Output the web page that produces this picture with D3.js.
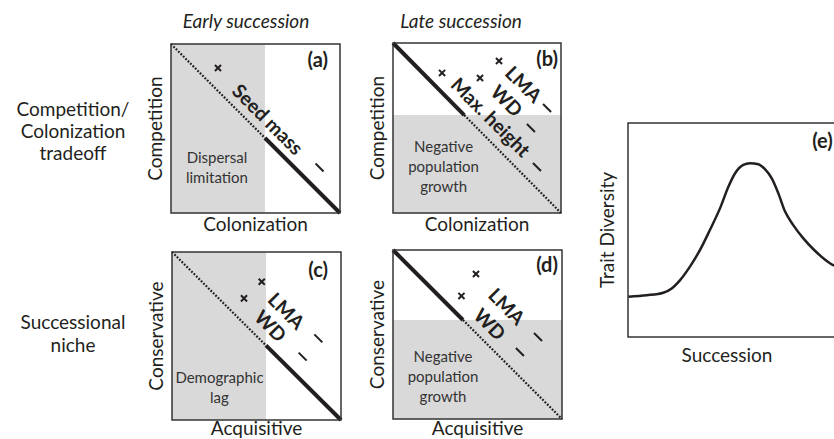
<!DOCTYPE html>
<html><head><meta charset="utf-8">
<script src="https://cdn.jsdelivr.net/npm/d3@7"></script>
<style>
html,body{margin:0;padding:0;background:#fff;overflow:hidden}
svg text{font-family:Lato,"Open Sans",sans-serif;fill:#231f20}
</style></head><body>
<svg id="chart" width="834" height="439"></svg>
<script>
// ---------------- data ----------------
const stageLabels = ["Early succession", "Late succession"];
const rowLabelsTop = ["Competition/", "Colonization", "tradeoff"];
const rowLabelsBottom = ["Successional", "niche"];
const panelIds = ["(a)", "(b)", "(c)", "(d)"];
const xAxisTitles = ["Colonization", "Colonization", "Acquisitive", "Acquisitive"];
const yAxisTitles = ["Competition", "Competition", "Conservative", "Conservative"];
// shaded region: early succession limited along x, late succession along y
const shadeAxis = ["x", "y", "x", "y"];
const shadeLimit = [0.556, 0.576, 0.556, 0.586];
const shadeText = [["Dispersal", "limitation"], ["Negative", "population", "growth"], ["Demographic", "lag"], ["Negative", "population", "growth"]];
const shadeTextU = [0.272, 0.301, 0.281, 0.296];
const shadeTextV = [0.296, 0.359, 0.220, 0.339];
// traits (label centre, "×" = high end, "–" = low end), in panel units 0..1
const traitNames = [["Seed mass"], ["Max. height", "WD", "LMA"], ["WD", "LMA"], ["WD", "LMA"]];
const traitU = [[0.574], [0.583, 0.679, 0.780], [0.584, 0.679], [0.574, 0.675]];
const traitV = [[0.556], [0.565, 0.662, 0.759], [0.561, 0.651], [0.562, 0.668]];
const crossU = [[0.278], [0.292, 0.518, 0.631], [0.426, 0.531], [0.405, 0.491]];
const crossV = [[0.858], [0.824, 0.794, 0.894], [0.724, 0.823], [0.728, 0.858]];
const dashU = [[0.879], [0.857, 0.821, 0.917], [0.773, 0.866], [0.751, 0.858]];
const dashV = [[0.269], [0.271, 0.500, 0.618], [0.377, 0.486], [0.396, 0.485]];
const idU = [0.929, 0.982, 0.923, 0.976];
const idV = [0.864, 0.865, 0.851, 0.870];
// panel (e): trait diversity along succession
const succession = [0.2, 8.9, 16.8, 20.8, 24.8, 29.5, 34.3, 39.0, 43.8, 47.8, 51.0, 54.9, 58.1, 62.1, 65.2, 68.4, 71.6, 74.8, 78.7, 83.5, 88.3, 93.0, 97.8, 100];
const diversity  = [18.8, 19.5, 20.7, 22.7, 26.6, 32.9, 40.7, 50.0, 60.1, 70.2, 76.5, 80.4, 81.2, 80.7, 78.4, 74.2, 67.1, 58.6, 52.3, 46.1, 41.0, 36.8, 33.6, 33.0];

// ---------------- layout ----------------
const panelBoxes = [
  {x0: 171, x1: 340, y0: 44, y1: 213},
  {x0: 393, x1: 561, y0: 43, y1: 213},
  {x0: 172, x1: 341, y0: 252, y1: 420},
  {x0: 393, x1: 562, y0: 250, y1: 419}
];
const boxE = {x0: 628, x1: 838, y0: 123, y1: 337};
const ink = "#231f20", shade = "#d9d9d9";
const titleSize = 19, innerSize = 15, boldSize = 19.5, idSize = 20;
const dotted = {w: 2.2, dash: "1.8,1.6"};

const svg = d3.select("#chart");

// column headings
svg.append("text").attr("x", 246).attr("y", 28).attr("text-anchor", "middle")
  .style("font-style", "italic").style("font-size", titleSize + "px").text(stageLabels[0]);
svg.append("text").attr("x", 461).attr("y", 28).attr("text-anchor", "middle")
  .style("font-style", "italic").style("font-size", titleSize + "px").text(stageLabels[1]);

// row headings
rowLabelsTop.forEach((t, k) => svg.append("text").attr("x", 73).attr("y", 116 + k * 22)
  .attr("text-anchor", "middle").style("font-size", titleSize + "px").text(t));
rowLabelsBottom.forEach((t, k) => svg.append("text").attr("x", 73).attr("y", 329 + k * 23)
  .attr("text-anchor", "middle").style("font-size", titleSize + "px").text(t));

panelBoxes.forEach((p, i) => {
  const g = svg.append("g");
  const x = d3.scaleLinear().domain([0, 1]).range([p.x0, p.x1]);
  const y = d3.scaleLinear().domain([0, 1]).range([p.y1, p.y0]);
  const L = shadeLimit[i];
  let bp; // point where the diagonal crosses the shade boundary
  if (shadeAxis[i] === "x") {
    g.append("rect").attr("x", x(0)).attr("y", y(1)).attr("width", x(L) - x(0)).attr("height", y(0) - y(1)).attr("fill", shade);
    bp = [L, 1 - L];
    g.append("line").attr("x1", x(0)).attr("y1", y(1)).attr("x2", x(bp[0])).attr("y2", y(bp[1]))
      .attr("stroke", ink).attr("stroke-width", dotted.w).attr("stroke-dasharray", dotted.dash);
    g.append("line").attr("x1", x(bp[0])).attr("y1", y(bp[1])).attr("x2", x(1)).attr("y2", y(0))
      .attr("stroke", ink).attr("stroke-width", 4);
  } else {
    g.append("rect").attr("x", x(0)).attr("y", y(L)).attr("width", x(1) - x(0)).attr("height", y(0) - y(L)).attr("fill", shade);
    bp = [1 - L, L];
    g.append("line").attr("x1", x(0)).attr("y1", y(1)).attr("x2", x(bp[0])).attr("y2", y(bp[1]))
      .attr("stroke", ink).attr("stroke-width", 4);
    g.append("line").attr("x1", x(bp[0])).attr("y1", y(bp[1])).attr("x2", x(1)).attr("y2", y(0))
      .attr("stroke", ink).attr("stroke-width", dotted.w).attr("stroke-dasharray", dotted.dash);
  }
  // frame
  g.append("rect").attr("x", x(0)).attr("y", y(1)).attr("width", x(1) - x(0)).attr("height", y(0) - y(1))
    .attr("fill", "none").attr("stroke", "#333").attr("stroke-width", 1.5);
  // shaded-area text
  shadeText[i].forEach((t, k) => g.append("text").attr("x", x(shadeTextU[i])).attr("y", y(shadeTextV[i]) + k * 20)
    .attr("text-anchor", "middle").style("font-size", innerSize + "px").style("fill", "#333").text(t));
  // traits
  traitNames[i].forEach((t, k) => {
    const cx = x(traitU[i][k]), cy = y(traitV[i][k]);
    g.append("text").attr("transform", `translate(${cx},${cy}) rotate(45)`)
      .attr("text-anchor", "middle").attr("dominant-baseline", "central")
      .style("font-weight", "bold").style("font-size", boldSize + "px").text(t);
    g.append("path").attr("d", d3.symbol(d3.symbolTimes, 26)())
      .attr("transform", `translate(${x(crossU[i][k])},${y(crossV[i][k])})`)
      .attr("fill", "none").attr("stroke", ink).attr("stroke-width", 2);
    const dx = x(dashU[i][k]), dy = y(dashV[i][k]);
    g.append("line").attr("x1", dx - 4).attr("y1", dy - 4).attr("x2", dx + 4).attr("y2", dy + 4)
      .attr("stroke", ink).attr("stroke-width", 2);
  });
  // panel id
  g.append("text").attr("x", x(idU[i])).attr("y", y(idV[i])).attr("text-anchor", "end")
    .style("font-weight", "bold").style("font-size", idSize + "px").text(panelIds[i]);
  // axis titles
  const rowBase = i < 2 ? 231 : 435;
  g.append("text").attr("x", (x(0) + x(1)) / 2).attr("y", rowBase).attr("text-anchor", "middle")
    .style("font-size", titleSize + "px").text(xAxisTitles[i]);
  g.append("text").attr("transform", `translate(${x(0) - 9},${(y(0) + y(1)) / 2}) rotate(-90)`)
    .attr("text-anchor", "middle").style("font-size", titleSize + "px").text(yAxisTitles[i]);
});

// panel (e)
{
  const g = svg.append("g");
  const x = d3.scaleLinear().domain([0, 100]).range([boxE.x0, boxE.x1]);
  const y = d3.scaleLinear().domain([0, 100]).range([boxE.y1, boxE.y0]);
  g.append("rect").attr("x", x(0)).attr("y", y(100)).attr("width", x(100) - x(0)).attr("height", y(0) - y(100))
    .attr("fill", "none").attr("stroke", "#333").attr("stroke-width", 1.5);
  const line = d3.line().x((d, k) => x(succession[k])).y((d, k) => y(diversity[k])).curve(d3.curveMonotoneX);
  g.append("path").attr("d", line(succession)).attr("fill", "none").attr("stroke", ink).attr("stroke-width", 2.5);
  g.append("text").attr("x", x(97.5)).attr("y", y(88.3)).attr("text-anchor", "end")
    .style("font-weight", "bold").style("font-size", idSize + "px").text("(e)");
  g.append("text").attr("x", 727).attr("y", 362).attr("text-anchor", "middle")
    .style("font-size", titleSize + "px").text("Succession");
  g.append("text").attr("transform", `translate(${x(0) - 14},${(y(0) + y(100)) / 2}) rotate(-90)`)
    .attr("text-anchor", "middle").style("font-size", titleSize + "px").text("Trait Diversity");
}
</script>
</body></html>
